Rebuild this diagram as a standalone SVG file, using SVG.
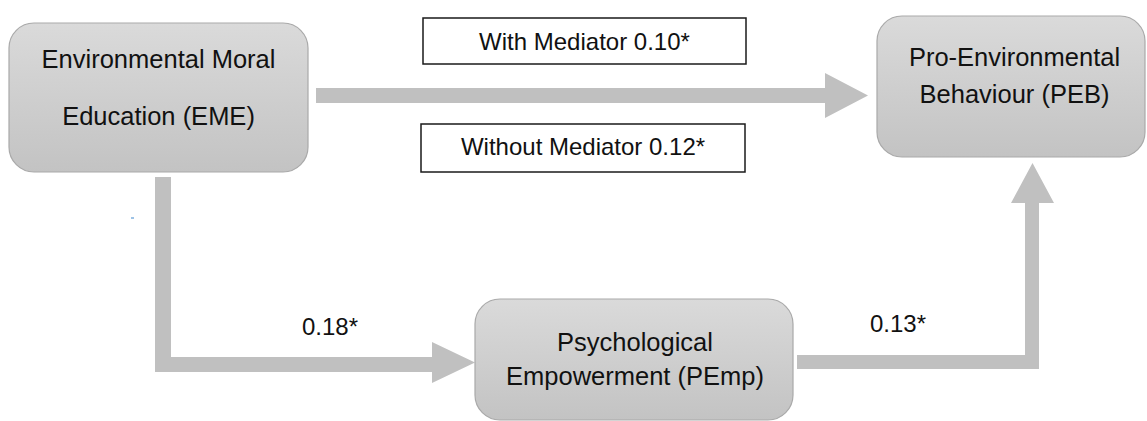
<svg xmlns="http://www.w3.org/2000/svg" width="1147" height="421" viewBox="0 0 1147 421">
  <defs>
    <linearGradient id="nodeFill" x1="0" y1="0" x2="0" y2="1">
      <stop offset="0" stop-color="#dadada"/>
      <stop offset="1" stop-color="#c3c3c3"/>
    </linearGradient>
    <style>
      .node { fill: url(#nodeFill); stroke: #a9a9a9; stroke-width: 1.2; }
      .ntext { font-family: "Liberation Sans", Arial, sans-serif; font-size: 25.5px; fill: #111; text-anchor: middle; }
      .lbox { fill: #ffffff; stroke: #1a1a1a; stroke-width: 1.5; }
      .ltext { font-family: "Liberation Sans", Arial, sans-serif; font-size: 24px; fill: #111; }
      .conn { fill: #c0c0c0; stroke: none; }
    </style>
  </defs>
  <rect width="1147" height="421" fill="#ffffff"/>

  <g id="connectors">
    <polygon class="conn" points="316,88 825,88 825,73 868,95.5 825,118 825,103 316,103"/>
    <polygon class="conn" points="155,177 171,177 171,357 432,357 432,342 475,362.5 432,383 432,372 155,372"/>
    <polygon class="conn" points="797,355 1025,355 1025,203 1011,203 1032.5,163 1054,203 1039,203 1039,369 797,369"/>
  </g>

  <g id="node-EME">
    <rect class="node" x="9" y="23" width="299" height="149" rx="25" ry="25"/>
    <text class="ntext" x="158.5" y="67.5">Environmental Moral</text>
    <text class="ntext" x="158.5" y="124.5">Education (EME)</text>
  </g>

  <g id="node-PEB">
    <rect class="node" x="877" y="16" width="268" height="141" rx="25" ry="25"/>
    <text class="ntext" x="1014.5" y="65.5">Pro-Environmental</text>
    <text class="ntext" x="1014.5" y="103">Behaviour (PEB)</text>
  </g>

  <g id="node-PEmp">
    <rect class="node" x="475" y="299" width="318" height="121" rx="25" ry="25"/>
    <text class="ntext" x="635" y="351">Psychological</text>
    <text class="ntext" x="635" y="385">Empowerment (PEmp)</text>
  </g>

  <g id="label-with">
    <rect class="lbox" x="423" y="18" width="323" height="46"/>
    <text class="ltext" x="584.5" y="49.5" text-anchor="middle">With Mediator 0.10*</text>
  </g>

  <g id="label-without">
    <rect class="lbox" x="421" y="124" width="324" height="48"/>
    <text class="ltext" x="583" y="155" text-anchor="middle">Without Mediator 0.12*</text>
  </g>

  <g id="label-018">
    <text class="ltext" x="302" y="335">0.18*</text>
  </g>
  <g id="label-013">
    <text class="ltext" x="870" y="332">0.13*</text>
  </g>

  <rect x="131" y="217" width="3" height="2" fill="#9ec3e6"/>
</svg>
